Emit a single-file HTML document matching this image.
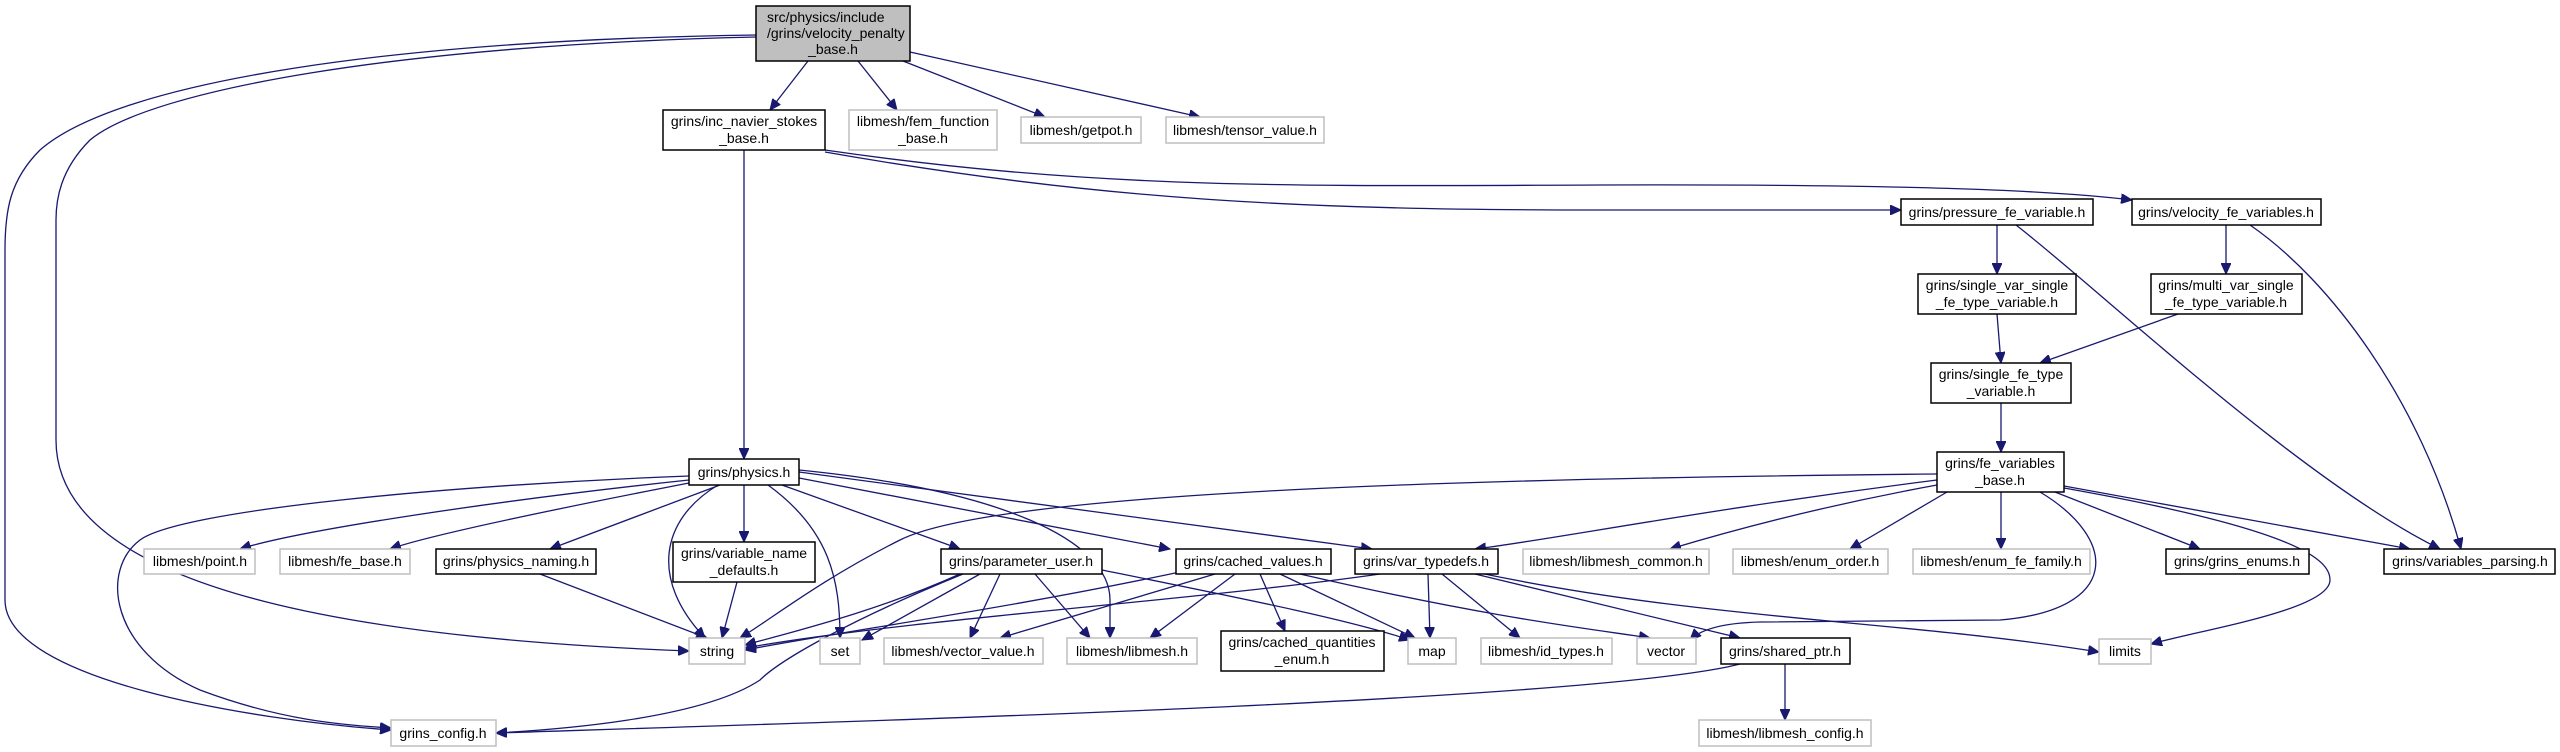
<!DOCTYPE html>
<html><head><meta charset="utf-8"><style>
html,body{margin:0;padding:0;background:#fff;}
svg{display:block;}
text{font-family:"Liberation Sans",Arial,sans-serif;font-size:14px;fill:#000;}
.g{fill:#fff;stroke:#bfbfbf;stroke-width:1.5;}
.b{fill:#fff;stroke:#000;stroke-width:1.5;}
.e{fill:none;stroke:#191970;stroke-width:1.3;marker-end:url(#a);}
</style></head><body>
<svg width="2560" height="752" viewBox="0 0 2560 752" xmlns="http://www.w3.org/2000/svg">
<defs><marker id="a" markerUnits="userSpaceOnUse" markerWidth="12" markerHeight="10" refX="11" refY="5" orient="auto"><path d="M0,0 L11,5 L0,10 z" fill="#191970" stroke="#191970"/></marker></defs>

<!-- edges -->
<g>
<path class="e" d="M808,61 L770,110"/>
<path class="e" d="M858,61 L897,110"/>
<path class="e" d="M903,61 L1045,117"/>
<path class="e" d="M910,52 L1200,117"/>
<path class="e" d="M756,35 C400,40 120,80 40,150 C10,180 5,210 5,250 L5,600 C5,680 250,720 391,730"/>
<path class="e" d="M756,37 C400,45 150,90 90,140 C60,170 56,200 56,220 L56,440 C56,600 400,640 689,651"/>
<path class="e" d="M744,150 L744,459"/>
<path class="e" d="M825,150 C1100,190 1300,186 1600,185 C1900,184 2050,190 2132,200"/>
<path class="e" d="M825,152 C1100,200 1300,210 1600,210 L1901,210"/>
<path class="e" d="M1997,225 L1997,274"/>
<path class="e" d="M2016,225 C2100,290 2300,480 2440,549"/>
<path class="e" d="M2226,225 L2226,274"/>
<path class="e" d="M2250,225 C2330,280 2420,400 2461,549"/>
<path class="e" d="M1997,314 L2001,363"/>
<path class="e" d="M2178,314 L2040,363"/>
<path class="e" d="M2001,403 L2001,452"/>
<path class="e" d="M1937,474 C1500,478 1000,490 900,540 C820,580 770,620 740,638"/>
<path class="e" d="M1937,480 C1700,510 1550,540 1475,549"/>
<path class="e" d="M1937,485 C1800,510 1700,540 1670,549"/>
<path class="e" d="M1947,492 L1850,549"/>
<path class="e" d="M2001,492 L2001,549"/>
<path class="e" d="M2055,492 L2200,549"/>
<path class="e" d="M2064,486 L2410,549"/>
<path class="e" d="M2040,492 C2120,540 2120,610 2000,620 L1760,622 C1720,623 1700,630 1690,640"/>
<path class="e" d="M2064,488 C2300,530 2330,560 2330,580 C2330,610 2200,630 2151,644"/>
<path class="e" d="M689,476 C450,485 180,510 140,540 C100,570 110,650 200,690 C280,720 340,725 391,728"/>
<path class="e" d="M689,480 C500,500 300,530 240,549"/>
<path class="e" d="M689,483 C550,510 430,535 390,549"/>
<path class="e" d="M720,485 L550,549"/>
<path class="e" d="M718,485 C660,520 650,580 705,638"/>
<path class="e" d="M744,485 L744,542"/>
<path class="e" d="M768,485 C830,530 840,580 840,638"/>
<path class="e" d="M799,470 C1000,490 1110,540 1110,600 L1110,638"/>
<path class="e" d="M782,485 L960,549"/>
<path class="e" d="M799,478 L1170,549"/>
<path class="e" d="M799,472 L1372,549"/>
<path class="e" d="M540,574 L707,638"/>
<path class="e" d="M737,582 L722,638"/>
<path class="e" d="M960,574 C880,610 800,630 745,645"/>
<path class="e" d="M963,574 C850,620 780,660 760,680 C700,720 550,730 496,733"/>
<path class="e" d="M980,574 L862,640"/>
<path class="e" d="M1000,574 L970,638"/>
<path class="e" d="M1035,574 L1090,638"/>
<path class="e" d="M1102,570 C1250,600 1350,620 1410,640"/>
<path class="e" d="M1180,572 C1000,610 850,630 745,650"/>
<path class="e" d="M1215,574 L1000,638"/>
<path class="e" d="M1235,574 L1150,638"/>
<path class="e" d="M1260,574 L1285,631"/>
<path class="e" d="M1280,574 L1415,638"/>
<path class="e" d="M1300,574 C1500,620 1600,630 1650,638"/>
<path class="e" d="M1380,574 C1200,600 900,620 745,648"/>
<path class="e" d="M1428,574 L1430,638"/>
<path class="e" d="M1442,574 L1520,638"/>
<path class="e" d="M1475,574 L1740,638"/>
<path class="e" d="M1475,572 C1700,620 1900,620 2099,652"/>
<path class="e" d="M1740,664 C1600,700 900,720 496,733"/>
<path class="e" d="M1785,664 L1785,720"/>
</g>

<!-- nodes -->
<rect x="756" y="6" width="154" height="55" fill="#bfbfbf" stroke="#000" stroke-width="1.5"/>
<text x="767" y="22">src/physics/include</text>
<text x="767" y="38">/grins/velocity_penalty</text>
<text x="833" y="54" text-anchor="middle">_base.h</text>

<g text-anchor="middle">
<rect class="b" x="663" y="110" width="162" height="40"/><text x="744" y="126">grins/inc_navier_stokes</text><text x="744" y="143">_base.h</text>
<rect class="g" x="849" y="110" width="148" height="40"/><text x="923" y="126">libmesh/fem_function</text><text x="923" y="143">_base.h</text>
<rect class="g" x="1021" y="117" width="120" height="26"/><text x="1081" y="135">libmesh/getpot.h</text>
<rect class="g" x="1166" y="117" width="158" height="26"/><text x="1245" y="135">libmesh/tensor_value.h</text>
<rect class="b" x="1901" y="199" width="192" height="26"/><text x="1997" y="217">grins/pressure_fe_variable.h</text>
<rect class="b" x="2132" y="199" width="189" height="26"/><text x="2226" y="217">grins/velocity_fe_variables.h</text>
<rect class="b" x="1918" y="274" width="158" height="40"/><text x="1997" y="290">grins/single_var_single</text><text x="1997" y="307">_fe_type_variable.h</text>
<rect class="b" x="2151" y="274" width="151" height="40"/><text x="2226" y="290">grins/multi_var_single</text><text x="2226" y="307">_fe_type_variable.h</text>
<rect class="b" x="1931" y="363" width="140" height="40"/><text x="2001" y="379">grins/single_fe_type</text><text x="2001" y="396">_variable.h</text>
<rect class="b" x="1937" y="452" width="127" height="40"/><text x="2000" y="468">grins/fe_variables</text><text x="2000" y="485">_base.h</text>
<rect class="b" x="689" y="459" width="110" height="26"/><text x="744" y="477">grins/physics.h</text>
<rect class="g" x="144" y="549" width="111" height="25"/><text x="200" y="566">libmesh/point.h</text>
<rect class="g" x="280" y="549" width="130" height="25"/><text x="345" y="566">libmesh/fe_base.h</text>
<rect class="b" x="436" y="549" width="160" height="25"/><text x="516" y="566">grins/physics_naming.h</text>
<rect class="b" x="673" y="542" width="142" height="40"/><text x="744" y="558">grins/variable_name</text><text x="744" y="575">_defaults.h</text>
<rect class="b" x="941" y="549" width="161" height="25"/><text x="1021" y="566">grins/parameter_user.h</text>
<rect class="b" x="1176" y="549" width="155" height="25"/><text x="1253" y="566">grins/cached_values.h</text>
<rect class="b" x="1355" y="549" width="143" height="25"/><text x="1426" y="566">grins/var_typedefs.h</text>
<rect class="g" x="1523" y="549" width="186" height="25"/><text x="1616" y="566">libmesh/libmesh_common.h</text>
<rect class="g" x="1733" y="549" width="155" height="25"/><text x="1810" y="566">libmesh/enum_order.h</text>
<rect class="g" x="1913" y="549" width="177" height="25"/><text x="2001" y="566">libmesh/enum_fe_family.h</text>
<rect class="b" x="2166" y="549" width="143" height="25"/><text x="2237" y="566">grins/grins_enums.h</text>
<rect class="b" x="2384" y="549" width="171" height="25"/><text x="2470" y="566">grins/variables_parsing.h</text>
<rect class="g" x="689" y="638" width="56" height="26"/><text x="717" y="656">string</text>
<rect class="g" x="820" y="638" width="40" height="26"/><text x="840" y="656">set</text>
<rect class="g" x="884" y="638" width="159" height="26"/><text x="963" y="656">libmesh/vector_value.h</text>
<rect class="g" x="1067" y="638" width="130" height="26"/><text x="1132" y="656">libmesh/libmesh.h</text>
<rect class="b" x="1221" y="631" width="163" height="40"/><text x="1302" y="647">grins/cached_quantities</text><text x="1302" y="664">_enum.h</text>
<rect class="g" x="1408" y="638" width="48" height="26"/><text x="1432" y="656">map</text>
<rect class="g" x="1481" y="638" width="131" height="26"/><text x="1546" y="656">libmesh/id_types.h</text>
<rect class="g" x="1637" y="638" width="59" height="26"/><text x="1666" y="656">vector</text>
<rect class="b" x="1721" y="638" width="129" height="26"/><text x="1785" y="656">grins/shared_ptr.h</text>
<rect class="g" x="2099" y="639" width="52" height="25"/><text x="2125" y="656">limits</text>
<rect class="g" x="391" y="720" width="105" height="26"/><text x="443" y="738">grins_config.h</text>
<rect class="g" x="1699" y="720" width="172" height="26"/><text x="1785" y="738">libmesh/libmesh_config.h</text>
</g>
</svg>
</body></html>
